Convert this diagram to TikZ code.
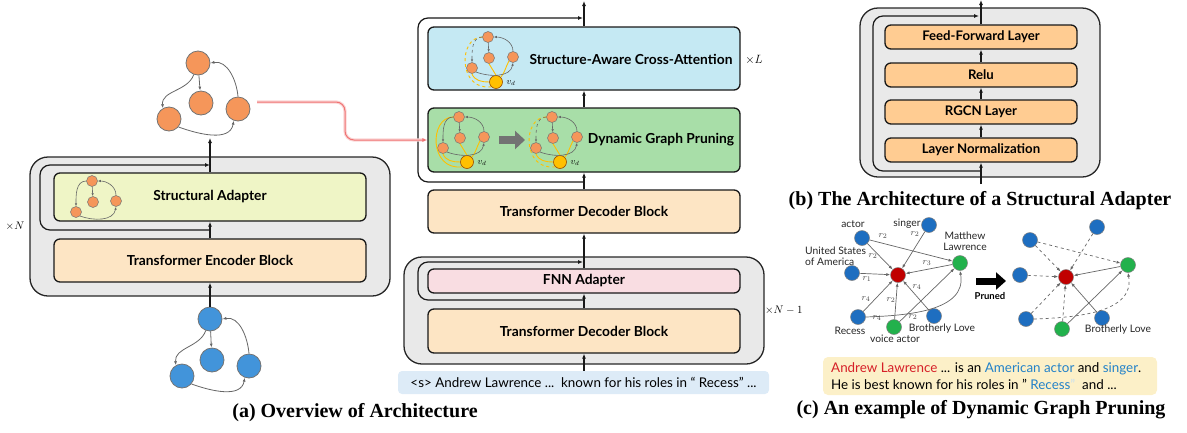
\documentclass[tikz,border=0pt]{standalone}
\usepackage{fontspec}
\setmainfont{Lato}
\newfontfamily\capfont{Liberation Serif}
\usetikzlibrary{arrows.meta}

\definecolor{panelgrey}{RGB}{233,233,233}
\definecolor{adapterfill}{RGB}{239,245,198}
\definecolor{blockfill}{RGB}{253,229,196}
\definecolor{attnfill}{RGB}{197,233,243}
\definecolor{prunefill}{RGB}{168,222,168}
\definecolor{fnnfill}{RGB}{249,221,226}
\definecolor{layerfill}{RGB}{255,204,146}
\definecolor{nodeorange}{RGB}{245,150,90}
\definecolor{nodeblue}{RGB}{66,148,218}
\definecolor{kgblue}{RGB}{30,110,192}
\definecolor{kgred}{RGB}{192,0,0}
\definecolor{kggreen}{RGB}{34,177,76}
\definecolor{vdyellow}{RGB}{255,192,0}
\definecolor{inputfill}{RGB}{221,235,247}
\definecolor{notefill}{RGB}{252,240,200}
\definecolor{linkred}{RGB}{240,115,115}
\definecolor{wordred}{RGB}{214,32,40}
\definecolor{wordblue}{RGB}{35,130,200}

\newcommand{\boxfont}{\fontsize{13.8}{16}\selectfont\bfseries}

\tikzset{
  panel/.style={draw=black!85, line width=1.3pt, fill=panelgrey, rounded corners=18pt},
  blk/.style={draw=black!90, line width=1.3pt, rounded corners=6pt, minimum width=312pt, inner sep=0pt, font=\boxfont},
  layerbox/.style={blk, fill=layerfill, minimum width=192pt, minimum height=24pt, font=\fontsize{13.2}{15}\selectfont\bfseries},
  flow/.style={draw=black!90, line width=1.2pt, -{Latex[length=5pt,width=4pt]}},
  resid/.style={flow, rounded corners=10pt},
  bignode/.style={circle, draw=black!55, line width=0.8pt, minimum size=24pt, inner sep=0pt},
  gedge/.style={draw=black!60, line width=0.8pt, -{Latex[length=4pt,width=3pt]}},
  mini/.style={circle, draw=black!55, line width=0.5pt, fill=nodeorange, minimum size=11pt, inner sep=0pt},
  vdnode/.style={circle, draw=black!40!orange, line width=0.6pt, fill=vdyellow, minimum size=13pt, inner sep=0pt},
  vdlabel/.style={font=\fontsize{9}{10}\selectfont, inner sep=0pt},
  miniedge/.style={draw=black!60, line width=0.6pt, -{Latex[length=3pt,width=2.4pt]}},
  yedge/.style={draw=vdyellow, line width=0.9pt},
  kgnode/.style={circle, draw=black!50, line width=0.5pt, minimum size=15pt, inner sep=0pt},
  kgedge/.style={draw=black!60, line width=0.7pt, -{Latex[length=4pt,width=3pt]}},
  kglabel/.style={font=\fontsize{10.3}{11.5}\selectfont, text=black!85, inner sep=0pt},
  rel/.style={font=\fontsize{9.5}{10}\selectfont, text=black!75, inner sep=0pt},
  capt/.style={font=\capfont\bfseries\fontsize{20}{23}\selectfont, inner sep=0pt},
  times/.style={font=\fontsize{11}{12}\selectfont, inner sep=0pt},
  pics/kg/.style={code={
    \node[mini] (-t) at (0,0) {};
    \node[mini] (-m) at (1,21) {};
    \node[mini] (-r) at (24,20) {};
    \node[mini] (-l) at (-16,31) {};
    \draw[miniedge] (-t) -- (-m);
    \draw[miniedge,#1] (-t.west) to[out=180,in=90] (-l.north);
    \draw[miniedge] (-r.north) to[out=90,in=0] (-t.east);
    \draw[miniedge] (-l.south east) to[out=-20,in=-100] (-r.south);
  }},
  pics/kgvd/.style={code={
    \node[mini] (-t) at (0,0) {};
    \node[mini] (-m) at (1,21) {};
    \node[mini] (-r) at (25,20) {};
    \node[mini] (-l) at (-16,31) {};
    \node[vdnode] (-v) at (8,45) {};
    \node[vdlabel] (-vl) at (23,46) {$v_d$};
    \draw[yedge,#1] (-t.west) .. controls (-30,0) and (-30,54) .. (-v.south west);
    \draw[yedge] (-l.south) to[out=-70,in=180] (-v.west);
    \draw[yedge] (-v.north) -- (-m.south);
    \draw[yedge] (-v.north east) to[out=50,in=-120] (-r.south west);
    \draw[miniedge] (-t) -- (-m);
    \draw[miniedge,#1] (-t.west) to[out=180,in=90] (-l.north);
    \draw[miniedge] (-r.north) to[out=90,in=0] (-t.east);
    \draw[miniedge] (-l.south east) to[out=-20,in=-100] (-r.south);
  }},
}

\begin{document}
\begin{tikzpicture}[x=1pt, y=-1pt]
\useasboundingbox (0,0) rectangle (1187,432);

% ---------------- (a) encoder side ----------------
\draw[panel] (30,157) rectangle (390,296);
\node[blk, fill=adapterfill, minimum height=48pt] (sa) at (210,197) {Structural Adapter};
\node[blk, fill=blockfill, minimum height=43pt] (enc) at (210,260.5) {Transformer Encoder Block};
\node[times] (xn) at (15,226) {$\times N$};
\pic (sag) at (92,181) {kg=solid};

% input graph (blue)
\node[bignode, fill=nodeblue] (bT) at (210,319) {};
\node[bignode, fill=nodeblue] (bM) at (212,360) {};
\node[bignode, fill=nodeblue] (bR) at (249,366) {};
\node[bignode, fill=nodeblue] (bL) at (182,376) {};
\draw[gedge] (bT) -- (bM);
\draw[gedge] (bT.250) to[out=-110,in=95] (bL.120);
\draw[gedge] (bR.north) to[out=95,in=10] (bT.east);
\draw[gedge] (bL.-40) to[out=-20,in=-100] (bR.-110);

% output graph (orange)
\node[bignode, fill=nodeorange] (oT) at (198,63) {};
\node[bignode, fill=nodeorange] (oM) at (201,103) {};
\node[bignode, fill=nodeorange] (oR) at (238,109) {};
\node[bignode, fill=nodeorange] (oL) at (169,119) {};
\draw[gedge] (oT) -- (oM);
\draw[gedge] (oT.250) to[out=-110,in=95] (oL.120);
\draw[gedge] (oR.north) to[out=95,in=10] (oT.east);
\draw[gedge] (oL.-40) to[out=-20,in=-100] (oR.-110);

% encoder flow
\coordinate (encout) at (210,138);
\coordinate (encmid) at (210,230);
\coordinate (enctop) at (210,165);
\draw[flow] (bT.north) -- (enc.south);
\draw[flow] (enc.north) -- (sa.south);
\draw[flow] (sa.north) -- (encout);
\draw[resid] (encmid) -- (40,230) -- (40,165) -- (enctop);

% ---------------- (a) decoder side ----------------
\draw[panel] (404,257) rectangle (764,364);
\node[blk, fill=attnfill, minimum height=63pt] (attn) at (584,58.5) {};
\node[font=\boxfont] (attnlab) at (631,59) {Structure-Aware Cross-Attention};
\node[times, font=\fontsize{13}{14}\selectfont] (xl) at (754,60) {$\times L$};
\node[blk, fill=prunefill, minimum height=64pt] (prune) at (584,140) {};
\node[font=\boxfont] (prunelab) at (661,140) {Dynamic Graph Pruning};
\node[blk, fill=blockfill, minimum height=43pt] (dec1) at (584,211.5) {Transformer Decoder Block};
\node[blk, fill=fnnfill, minimum height=24pt] (fnn) at (584,281) {FNN Adapter};
\node[blk, fill=blockfill, minimum height=44pt] (dec2) at (584,331) {Transformer Decoder Block};
\node[times, anchor=west] (xn1) at (765,310) {$\times N-1$};

\node[fill=inputfill, rounded corners=4pt, minimum width=371pt, minimum height=23pt, inner sep=0pt,
      font=\fontsize{13.4}{15}\selectfont] (inp) at (583.5,382.5)
      {<s> Andrew Lawrence ...\ \ known for his roles in “ Recess” ...};

\pic (cag) at (488,37) {kgvd=dashed};
\pic (pg1) at (459,117) {kgvd=solid};
\pic (pg2) at (552,117) {kgvd=dashed};
\coordinate (pa1) at (499,140);
\coordinate (pa2) at (525,140);
\draw[draw=black!55, line width=8pt, -{Triangle[length=10pt,width=18pt]}] (pa1) -- (pa2);

% decoder flow
\coordinate (decout) at (584,1);
\coordinate (decmid) at (584,300);
\coordinate (dectop) at (583,262);
\coordinate (outmid) at (584,182);
\coordinate (outtop) at (583,18);
\draw[flow] (inp.north -| dec2.south) -- (dec2.south);
\draw[flow] (dec2.north) -- (fnn.south);
\draw[flow] (fnn.north) -- (dec1.south);
\draw[resid] (decmid) -- (418,300) -- (418,262) -- (dectop);
\draw[flow] (dec1.north) -- (prune.south);
\draw[flow] (prune.north) -- (attn.south);
\draw[flow] (attn.north) -- (decout);
\draw[resid] (outmid) -- (418,182) -- (418,18) -- (outtop);

% graph hand-over from encoder to pruning
\coordinate (linkstart) at (257,102);
\draw[draw=linkred!30, line width=3.2pt, rounded corners=9pt] (linkstart) -- (345,102) -- (345,140) -- ([xshift=-3pt]prune.west);
\draw[draw=linkred, line width=1pt, rounded corners=9pt, -{Latex[length=5pt,width=4pt]}] (linkstart) -- (345,102) -- (345,140) -- (prune.west);

\node[capt] (capa) at (355,413) {(a) Overview of Architecture};

% ---------------- (b) structural adapter ----------------
\draw[panel] (860,8) rectangle (1100,177);
\node[layerbox] (ff) at (981,37) {Feed-Forward Layer};
\node[layerbox] (relu) at (981,75) {Relu};
\node[layerbox] (rgcn) at (981,112) {RGCN Layer};
\node[layerbox] (ln) at (981,150) {Layer Normalization};
\coordinate (bin) at (981,184);
\coordinate (bout) at (981,0);
\coordinate (bmid) at (981,171);
\coordinate (btop) at (979,16);
\draw[flow] (bin) -- (ln.south);
\draw[flow] (ln.north) -- (rgcn.south);
\draw[flow] (rgcn.north) -- (relu.south);
\draw[flow] (relu.north) -- (ff.south);
\draw[flow] (ff.north) -- (bout);
\draw[resid] (bmid) -- (873,171) -- (873,16) -- (btop);
\node[capt] (capb) at (980,201) {(b) The Architecture of a Structural Adapter};

% ---------------- (c) pruning example ----------------
\node[kgnode, fill=kgred] (cC) at (898,275) {};
\node[kgnode, fill=kgblue] (cA) at (862,238) {};
\node[kgnode, fill=kgblue] (cS) at (929,225) {};
\node[kgnode, fill=kggreen] (cW) at (960,263) {};
\node[kgnode, fill=kgblue] (cU) at (852,273) {};
\node[kgnode, fill=kgblue] (cRc) at (858,317) {};
\node[kgnode, fill=kggreen] (cV) at (894,327) {};
\node[kgnode, fill=kgblue] (cB) at (934,316) {};
\draw[kgedge] (cA) -- (cC);
\draw[kgedge] (cA) -- (cW);
\draw[kgedge] (cS) -- (cC);
\draw[kgedge] (cW) -- (cC);
\draw[kgedge] (cU) -- (cC);
\draw[kgedge] (cRc) -- (cC);
\draw[kgedge] (cRc.east) to[out=2,in=-80] (cW.south);
\draw[kgedge] (cV) -- (cC);
\draw[kgedge] (cV) -- (cW);
\draw[kgedge] (cB) -- (cC);

\node[rel] (ra1) at (883,236) {$r_2$};
\node[rel] (ra2) at (873,256) {$r_2$};
\node[rel] (rs) at (915,234) {$r_2$};
\node[rel] (rw) at (927,263) {$r_3$};
\node[rel] (ru) at (867,279) {$r_1$};
\node[rel] (rr1) at (866,299) {$r_4$};
\node[rel] (rr2) at (877,318) {$r_4$};
\node[rel] (rv1) at (891,300) {$r_2$};
\node[rel] (rv2) at (913,317) {$r_2$};
\node[rel] (rb) at (917,287) {$r_4$};

\node[kglabel] (lA) at (853,224) {actor};
\node[kglabel] (lS) at (907,224) {singer};
\node[kglabel, align=center] (lW) at (965,241) {Matthew\\[-1pt]Lawrence};
\node[kglabel, align=left, anchor=west] (lU) at (805,256) {United States\\[-1pt]of America};
\node[kglabel] (lR) at (850,331) {Recess};
\node[kglabel] (lV) at (895,339) {voice actor};
\node[kglabel] (lB) at (942,329) {Brotherly Love};

\coordinate (pr1) at (976,281);
\coordinate (pr2) at (1006,281);
\draw[draw=black, line width=7pt, -{Triangle[length=10pt,width=17pt]}] (pr1) -- (pr2);
\node[font=\fontsize{9.5}{10}\selectfont\bfseries, inner sep=0pt] (lpr) at (990,296) {Pruned};

\node[kgnode, fill=kgred] (dC) at (1066,277) {};
\node[kgnode, fill=kgblue] (dA) at (1030,240) {};
\node[kgnode, fill=kgblue] (dS) at (1097,227) {};
\node[kgnode, fill=kggreen] (dW) at (1128,265) {};
\node[kgnode, fill=kgblue] (dU) at (1020,275) {};
\node[kgnode, fill=kgblue] (dRc) at (1026,319) {};
\node[kgnode, fill=kggreen] (dV) at (1062,329) {};
\node[kgnode, fill=kgblue] (dB) at (1102,318) {};
\draw[kgedge, dashed] (dA) -- (dC);
\draw[kgedge, dashed] (dA) -- (dW);
\draw[kgedge, dashed] (dS) -- (dC);
\draw[kgedge] (dW) -- (dC);
\draw[kgedge, dashed] (dU) -- (dC);
\draw[kgedge, dashed] (dRc) -- (dC);
\draw[kgedge, dashed] (dRc.east) to[out=2,in=-80] (dW.south);
\draw[kgedge, dashed] (dV) -- (dC);
\draw[kgedge] (dV) -- (dW);
\draw[kgedge] (dB) -- (dC);
\node[kglabel] (lB2) at (1118,330) {Brotherly Love};

\node[fill=notefill, rounded corners=5pt, minimum width=334pt, minimum height=38pt, inner sep=0pt] (note) at (990,376) {};
\node[anchor=west, align=left, inner sep=0pt, font=\fontsize{13.4}{17}\selectfont] (notetext) at (831,376)
  {\textcolor{wordred}{Andrew Lawrence} ... is an \textcolor{wordblue}{American actor} and \textcolor{wordblue}{singer}.\\
   He is best known for his roles in " \textcolor{wordblue}{Recess}\textcolor{wordblue!25}{"}\ \ and ...};

\node[capt] (capc) at (981,410) {(c) An example of Dynamic Graph Pruning};
\end{tikzpicture}
\end{document}
